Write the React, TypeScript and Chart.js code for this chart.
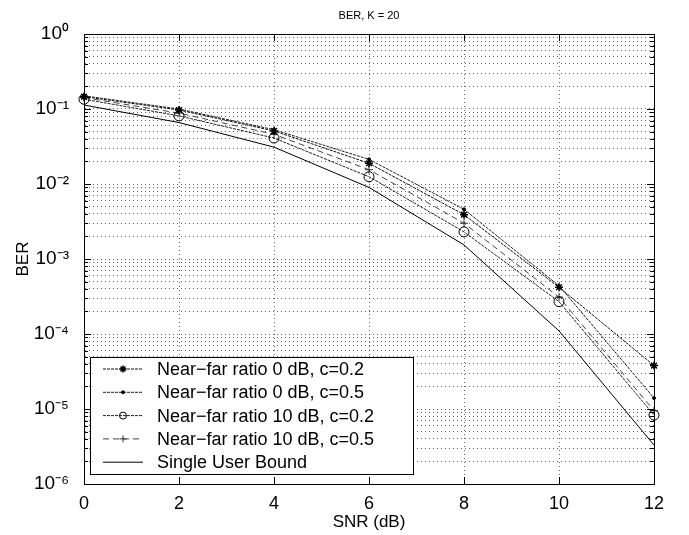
import React, { useEffect, useRef } from "react";
import { Chart, registerables } from "chart.js";
import { drawPoint } from "chart.js/helpers";
Chart.register(...registerables);

// ---- data ----
const snrDb = [0, 2, 4, 6, 8, 10, 12];
const nf0c02 = [0.146, 0.097, 0.051, 0.0189, 0.0039, 4.2e-4, 3.8e-5];
const nf0c05 = [0.15, 0.1, 0.053, 0.0213, 0.0046, 4.4e-4, 1.4e-5];
const nf10c02 = [0.135, 0.081, 0.041, 0.0125, 0.0023, 2.7e-4, 8.3e-6];
const nf10c05 = [0.142, 0.088, 0.046, 0.0155, 0.003, 3.1e-4, 9.5e-6];
const singleUser = [0.113, 0.066, 0.031, 0.009, 0.00154, 1.1e-4, 3.3e-6];

const seriesLabels = [
  "Near\u2212far ratio 0 dB, c=0.2",
  "Near\u2212far ratio 0 dB, c=0.5",
  "Near\u2212far ratio 10 dB, c=0.2",
  "Near\u2212far ratio 10 dB, c=0.5",
  "Single User Bound",
];
const xTickValues = [0, 2, 4, 6, 8, 10, 12];
const yDecades = [1e-6, 1e-5, 1e-4, 1e-3, 1e-2, 1e-1, 1];
const yDecadeLabels = ["10\u207B\u2076", "10\u207B\u2075", "10\u207B\u2074", "10\u207B\u00B3", "10\u207B\u00B2", "10\u207B\u00B9", "10\u2070"];
const titleText = "BER, K = 20";
const xTitle = "SNR (dB)";
const yTitle = "BER";

const FONT = '"Liberation Sans", Arial, Helvetica, sans-serif';

function toPoints(ys: number[]) {
  return snrDb.map((x, i) => ({ x, y: ys[i] }));
}

function yTickList() {
  const out: { value: number; major: boolean }[] = [];
  for (let d = 0; d < yDecades.length; d++) {
    const base = yDecades[d];
    if (d === yDecades.length - 1) {
      out.push({ value: base, major: true });
      break;
    }
    for (let m = 1; m <= 9; m++) {
      out.push({ value: parseFloat((m * base).toPrecision(6)), major: m === 1 });
    }
  }
  return out;
}

const framePlugin = {
  id: "frameTicks",
  afterDatasetsDraw(chart: any) {
    const { ctx, chartArea: a, scales } = chart;
    ctx.save();
    ctx.strokeStyle = "#000";
    ctx.lineWidth = 1;
    ctx.setLineDash([]);
    ctx.strokeRect(Math.round(a.left) + 0.5, Math.round(a.top) + 0.5, Math.round(a.right - a.left), Math.round(a.bottom - a.top));
    ctx.beginPath();
    for (const t of scales.y.ticks) {
      const py = Math.round(scales.y.getPixelForValue(t.value)) + 0.5;
      const len = t.major ? 7 : 4;
      ctx.moveTo(a.left, py);
      ctx.lineTo(a.left + len, py);
      ctx.moveTo(a.right, py);
      ctx.lineTo(a.right - len, py);
    }
    for (const t of scales.x.ticks) {
      const px = Math.round(scales.x.getPixelForValue(t.value)) + 0.5;
      ctx.moveTo(px, a.bottom);
      ctx.lineTo(px, a.bottom - 7);
      ctx.moveTo(px, a.top);
      ctx.lineTo(px, a.top + 7);
    }
    ctx.stroke();
    ctx.restore();
  },
};

const legendPlugin = {
  id: "insideLegend",
  afterDraw(chart: any) {
    const { ctx, chartArea: a } = chart;
    const left = a.left + 6;
    const bottom = a.bottom - 10;
    const rowH = 23.3;
    const n = chart.data.datasets.length;
    const height = n * rowH + 0.5;
    const top = bottom - height;
    const width = 323;
    ctx.save();
    ctx.fillStyle = "#fff";
    ctx.fillRect(left, top, width, height);
    ctx.strokeStyle = "#000";
    ctx.lineWidth = 1;
    ctx.setLineDash([]);
    ctx.strokeRect(Math.round(left) + 0.5, Math.round(top) + 0.5, width, Math.round(height));
    chart.data.datasets.forEach((ds: any, i: number) => {
      const cy = top + 12 + i * rowH;
      ctx.save();
      ctx.strokeStyle = ds.borderColor;
      ctx.lineWidth = ds.borderWidth;
      ctx.setLineDash(ds.borderDash || []);
      ctx.beginPath();
      ctx.moveTo(left + 13, cy);
      ctx.lineTo(left + 53, cy);
      ctx.stroke();
      ctx.setLineDash([]);
      if (ds.pointRadius > 0) {
        ctx.strokeStyle = ds.pointBorderColor;
        ctx.fillStyle = ds.pointBackgroundColor;
        ctx.lineWidth = ds.pointBorderWidth;
        const r = Math.min(ds.pointRadius, 3.5);
        drawPoint(ctx, { pointStyle: ds.pointStyle, radius: r, rotation: 0, borderWidth: ds.pointBorderWidth }, left + 33, cy);
      }
      ctx.restore();
      ctx.fillStyle = "#000";
      ctx.font = `18px ${FONT}`;
      ctx.textAlign = "left";
      ctx.textBaseline = "middle";
      ctx.fillText(ds.label, left + 67, cy + 1);
    });
    ctx.restore();
  },
};

export default function App() {
  const ref = useRef<HTMLCanvasElement | null>(null);
  useEffect(() => {
    if (!ref.current) return;
    const common = { borderWidth: 1, tension: 0, clip: 10, fill: false };
    const chart = new Chart(ref.current, {
      type: "line",
      data: {
        datasets: [
          {
            ...common,
            label: seriesLabels[0],
            data: toPoints(nf0c02),
            borderColor: "#111",
            borderDash: [3, 1],
            pointStyle: "star",
            pointRadius: 4,
            pointBorderWidth: 1.5,
            pointBorderColor: "#000",
            pointBackgroundColor: "#000",
          },
          {
            ...common,
            label: seriesLabels[1],
            data: toPoints(nf0c05),
            borderColor: "#222",
            borderDash: [3, 1],
            pointStyle: "circle",
            pointRadius: 1.5,
            pointBorderWidth: 1,
            pointBorderColor: "#000",
            pointBackgroundColor: "#000",
          },
          {
            ...common,
            label: seriesLabels[2],
            data: toPoints(nf10c02),
            borderColor: "#222",
            borderDash: [3, 1],
            pointStyle: "circle",
            pointRadius: 5,
            pointBorderWidth: 1,
            pointBorderColor: "#000",
            pointBackgroundColor: "rgba(0,0,0,0)",
          },
          {
            ...common,
            label: seriesLabels[3],
            data: toPoints(nf10c05),
            borderColor: "#444",
            borderDash: [6, 4],
            pointStyle: "cross",
            pointRadius: 4,
            pointBorderWidth: 1,
            pointBorderColor: "#333",
            pointBackgroundColor: "#333",
          },
          {
            ...common,
            label: seriesLabels[4],
            data: toPoints(singleUser),
            borderColor: "#000",
            borderDash: [],
            pointStyle: "circle",
            pointRadius: 0,
            pointBorderWidth: 0,
            pointBorderColor: "#000",
            pointBackgroundColor: "#000",
          },
        ],
      },
      options: {
        animation: false,
        responsive: true,
        maintainAspectRatio: false,
        layout: { padding: { left: 0, right: 35, top: 0, bottom: 0 } },
        plugins: {
          legend: { display: false },
          tooltip: { enabled: false },
          title: {
            display: true,
            text: titleText,
            fullSize: false,
            color: "#000",
            font: { family: FONT, size: 11, weight: "normal" },
            padding: { top: 9, bottom: 11.8 },
          },
        },
        scales: {
          x: {
            type: "linear",
            min: 0,
            max: 12,
            afterBuildTicks: (s: any) => {
              s.ticks = xTickValues.map((v) => ({ value: v }));
            },
            afterFit: (s: any) => {
              s.height = 51;
            },
            ticks: { color: "#000", font: { family: FONT, size: 18 }, padding: 9, autoSkip: false, maxRotation: 0 },
            grid: { color: "rgba(0,0,0,0.6)", lineWidth: 1, drawTicks: false },
            border: { display: true, color: "#000", width: 1, dash: [1, 3] },
            title: { display: true, text: xTitle, color: "#000", font: { family: FONT, size: 17 }, padding: { top: 0, bottom: 2 } },
          },
          y: {
            type: "logarithmic",
            min: 1e-6,
            max: 1,
            afterBuildTicks: (s: any) => {
              s.ticks = yTickList();
            },
            afterFit: (s: any) => {
              s.width = 84;
            },
            ticks: {
              color: "#000",
              font: { family: FONT, size: 19 },
              padding: 15,
              autoSkip: false,
              callback: (v: any) => {
                const idx = yDecades.findIndex((d) => Math.abs(d - v) / d < 1e-6);
                return idx >= 0 ? yDecadeLabels[idx] : "";
              },
            },
            grid: { color: "rgba(0,0,0,0.6)", lineWidth: 1, drawTicks: false },
            border: { display: true, color: "#000", width: 1, dash: [1, 3] },
            title: { display: true, text: yTitle, color: "#000", font: { family: FONT, size: 17 }, padding: { top: 13, bottom: 0 } },
          },
        },
      } as any,
      plugins: [framePlugin, legendPlugin],
    });
    return () => chart.destroy();
  }, []);
  return (
    <div style={{ position: "fixed", left: 0, top: 0, width: 689, height: 535, background: "#fff" }}>
      <canvas ref={ref} />
    </div>
  );
}
